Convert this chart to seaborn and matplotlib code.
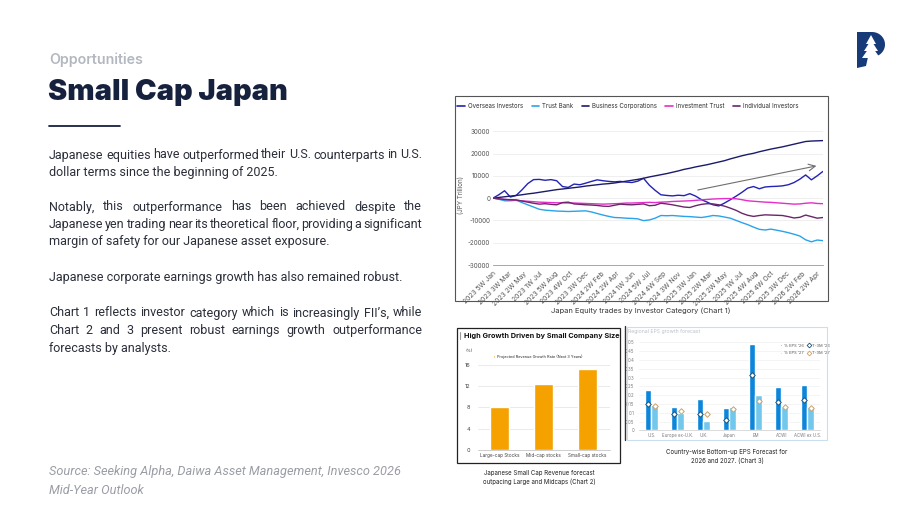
import numpy as np
import pandas as pd
import matplotlib
matplotlib.use("Agg")
import matplotlib.pyplot as plt
import seaborn as sns
from matplotlib.patches import Rectangle, Polygon
from matplotlib.lines import Line2D
from matplotlib.patches import Patch

sns.set_theme(style="white")
plt.rcParams['font.family'] = ['Inter', 'DejaVu Sans']

# ---------------- data: chart 1 (cumulative net trades, every 3 weeks) -------------
weeks = list(range(0, 172, 3))
overseas = [0, 1500, 3300, 500, 1200, 3700, 6500, 8300, 8400, 8000, 8300, 7800, 5200, 4800,
            6300, 6000, 6700, 7500, 8200, 7800, 7500, 7300, 7500, 7200, 7000, 7600, 8900, 5800,
            3500, 1500, 1200, 1000, 1300, 1100, 2000, 900, -700, -1800, -3000, -3500, -2200,
            -700, 900, 2600, 4500, 5200, 4200, 5000, 5200, 5300, 5500, 6000, 7000, 8500, 10400,
            8200, 10000, 12000]
trust_bank = [0, -500, -1200, -1200, -900, -2000, -3000, -4000, -5000, -5400, -5600, -5800,
              -5900, -6000, -5900, -5800, -5700, -6200, -6900, -7600, -8200, -8700, -8800, -9000,
              -9100, -9300, -10100, -9800, -9000, -7800, -7900, -7800, -8000, -8200, -8300, -8500,
              -8700, -8300, -7800, -8000, -8500, -9000, -10000, -11000, -11900, -13000, -14000,
              -14300, -13900, -14400, -14900, -15500, -16200, -17000, -18700, -19600, -18800, -19100]
business_corp = [0, 300, 600, 900, 1200, 1500, 1900, 2200, 2600, 3000, 3400, 3800, 4100, 4400,
                 4700, 5000, 5400, 5700, 6000, 6300, 6500, 6800, 7200, 7600, 8000, 8400, 8900,
                 9500, 10000, 10500, 11000, 11600, 12200, 12900, 13400, 14000, 14500, 15000,
                 15600, 16200, 16800, 17600, 18300, 19000, 19600, 20100, 20800, 21400, 22000,
                 22500, 23000, 23600, 24200, 24800, 25400, 25600, 25700, 25800]
investment_trust = [0, -300, -600, -800, -1000, -1200, -1400, -1600, -1800, -1900, -2000, -2100,
                    -2100, -2200, -2200, -2300, -2400, -2500, -2600, -2700, -2600, -2500, -2400,
                    -2200, -2200, -2100, -2000, -1900, -2000, -1800, -1700, -1500, -1400, -1300,
                    -1200, -1000, -800, -600, -400, -300, -200, -200, -300, -700, -1200, -1400,
                    -1600, -1800, -1900, -2100, -2300, -2500, -2700, -2600, -2300, -2100, -2400, -2500]
individual = [0, -300, -600, -700, -800, -1300, -1800, -2300, -2700, -2500, -2800, -3000, -2000,
              -1800, -2600, -2800, -3000, -3100, -3300, -3600, -3700, -3200, -2700, -2900, -3000,
              -2800, -2600, -3400, -3200, -2300, -2600, -3000, -3500, -4000, -4200, -3400, -2800,
              -2500, -2600, -3000, -3600, -4500, -5500, -6800, -7700, -8200, -7800, -7500, -7600,
              -7700, -7800, -8300, -8900, -8600, -7600, -8300, -9000, -8700]
series_names = ["Overseas Investors", "Trust Bank", "Business Corporations",
                "Investment Trust", "Individual Investors"]
series_colors = ["#2323b4", "#2aa3ea", "#1b1b6b", "#e62ccc", "#6b2668"]
tick_weeks = list(range(0, 169, 8))
tick_labels = ["2023 5W Jan", "2023 3W Mar", "2023 2W May", "2023 1W Jul", "2023 5W Aug",
               "2023 4W Oct", "2023 3W Dec", "2024 2W Feb", "2024 2W Apr", "2024 1W Jun",
               "2024 5W Jul", "2024 4W Sep", "2024 3W Nov", "2025 3W Jan", "2025 2W Mar",
               "2025 2W May", "2025 1W Jul", "2025 4W Aug", "2025 4W Oct", "2025 3W Dec",
               "2026 2W Feb", "2026 2W Apr"]
y1_ticks = [-30000, -20000, -10000, 0, 10000, 20000, 30000]
trend_start = (104.7, 3400)
trend_end = (169, 14700)

# ---------------- data: chart 2 ----------------
cap_cats = ["Large-cap Stocks", "Mid-cap stocks", "Small-cap stocks"]
cap_growth = [8.1, 12.4, 15.2]
y2_ticks = [0, 4, 8, 12, 16]

# ---------------- data: chart 3 ----------------
regions = ["U.S.", "Europe ex-U.K.", "U.K.", "Japan", "EM", "ACWI", "ACWI ex U.S."]
eps26 = [0.23, 0.13, 0.18, 0.125, 0.49, 0.245, 0.26]
eps27 = [0.145, 0.10, 0.055, 0.135, 0.20, 0.135, 0.13]
t3m26 = [0.15, 0.09, 0.095, 0.06, 0.315, 0.16, 0.17]
t3m27 = [0.14, 0.11, 0.095, 0.12, 0.165, 0.135, 0.125]
y3_ticks = [0, 0.05, 0.1, 0.15, 0.2, 0.25, 0.3, 0.35, 0.4, 0.45, 0.5]
y3_labels = ["0", "0.05", "0.1", "0.15", "0.2", "0.25", "0.3", "0.35", "0.4", "0.45", "0.5"]

# ---------------- figure helpers ----------------
W, H = 913, 515
fig = plt.figure(figsize=(W / 100, H / 100), dpi=100)
fig.patch.set_facecolor("white")

def fx(x):
    return x / W

def fy(y):
    return 1 - y / H

def add_ax(x0, y0, x1, y1):
    return fig.add_axes([fx(x0), fy(y1), (x1 - x0) / W, (y1 - y0) / H])

def frame(x0, y0, x1, y1, color, lw=0.8):
    fig.add_artist(Rectangle((fx(x0), fy(y1)), (x1 - x0) / W, (y1 - y0) / H,
                             transform=fig.transFigure, fill=False, ec=color, lw=lw))

NAVY = "#16213e"
BODY_FONT = ["Roboto", "DejaVu Sans"]
renderer = fig.canvas.get_renderer()

def text_width(s, size, **kw):
    t = fig.text(0, 0, s, fontsize=size, **kw)
    w = t.get_window_extent(renderer).width
    t.remove()
    return w

def put_line(text, x0, x1, yb, size, color, justify=True, **kw):
    words = text.split(" ")
    if not justify or len(words) == 1:
        fig.text(fx(x0), fy(yb), text, fontsize=size, color=color, va="baseline", ha="left", **kw)
        return
    full = text_width(text, size, **kw)
    extra = (x1 - x0 - full) / (len(words) - 1)
    for k, w in enumerate(words):
        prefix = " ".join(words[:k + 1])
        start = text_width(prefix, size, **kw) - text_width(w, size, **kw)
        fig.text(fx(x0 + start + k * extra), fy(yb), w, fontsize=size, color=color,
                 va="baseline", ha="left", **kw)

# ---------------- left text ----------------
fig.text(fx(49), fy(64), "Opportunities", fontsize=10.2, color="#b3b7c0",
         fontweight="semibold", va="baseline")
fig.text(fx(48), fy(100), "Small Cap Japan", fontsize=20.8, color=NAVY,
         fontweight="black", va="baseline")
fig.add_artist(Line2D([fx(49), fx(120)], [fy(126), fy(126)], transform=fig.transFigure,
                      color=NAVY, lw=1.3))

paras = [
    (["Japanese equities have outperformed their U.S. counterparts in U.S.",
      "dollar terms since the beginning of 2025."], [158.5, 176]),
    (["Notably, this outperformance has been achieved despite the",
      "Japanese yen trading near its theoretical floor, providing a significant",
      "margin of safety for our Japanese asset exposure."], [210.5, 228, 245.5]),
    (["Japanese corporate earnings growth has also remained robust."], [280.5]),
    (["Chart 1 reflects investor category which is increasingly FII\u2019s, while",
      "Chart 2 and 3 present robust earnings growth outperformance",
      "forecasts by analysts."], [316.5, 334, 352]),
]
for lines, ys in paras:
    for i, (ln, yb) in enumerate(zip(lines, ys)):
        put_line(ln, 49, 422, yb, 9.0, "#2b2f3a", justify=(i < len(lines) - 1),
                 family=BODY_FONT)

fig.text(fx(49), fy(475), "Source: Seeking Alpha, Daiwa Asset Management, Invesco 2026",
         fontsize=9.15, color="#9a9da5", style="italic", va="baseline", family=BODY_FONT)
fig.text(fx(49), fy(494), "Mid-Year Outlook", fontsize=9.15, color="#9a9da5",
         style="italic", va="baseline", family=BODY_FONT)

# ---------------- logo ----------------
theta = np.linspace(np.pi / 2, -np.pi / 2, 30)
bowl = [(872 + 13 * np.cos(t), 44.5 - 12.5 * np.sin(t)) for t in theta]
pts = [(857, 32)] + bowl + [(868, 57), (866, 66), (857, 68)]
fig.add_artist(Polygon([(fx(a), fy(b)) for a, b in pts], closed=True,
                       transform=fig.transFigure, fc="#173a78", ec="none"))
for apex, base, half in [(35, 44, 5), (40, 51, 7), (45, 58, 9)]:
    tri = [(871, apex), (871 - half, base), (871 + half, base)]
    fig.add_artist(Polygon([(fx(a), fy(b)) for a, b in tri], closed=True,
                           transform=fig.transFigure, fc="white", ec="none"))
fig.add_artist(Rectangle((fx(869.5), fy(63)), 3 / W, 5 / H, transform=fig.transFigure,
                         fc="white", ec="none"))

# ---------------- chart 1 ----------------
frame(455, 96, 828, 301, "#555555")
ax1 = add_ax(493, 125, 823, 265)
df1 = pd.DataFrame({"week": weeks * 5,
                    "value": overseas + trust_bank + business_corp + investment_trust + individual,
                    "series": sum([[n] * len(weeks) for n in series_names], [])})
sns.lineplot(data=df1, x="week", y="value", hue="series", hue_order=series_names,
             palette=series_colors, lw=1.0, ax=ax1, legend=False)
ax1.set_xlim(0, 171)
ax1.set_ylim(-30000, 32800)
ax1.set_yticks(y1_ticks)
ax1.set_yticklabels([str(v) for v in y1_ticks], fontsize=4.5, color="#555555")
ax1.set_xticks(tick_weeks)
ax1.set_xticklabels(tick_labels, rotation=45, ha="right", rotation_mode="anchor",
                    fontsize=4.9, color="#555555")
ax1.tick_params(axis="y", length=0, pad=2)
ax1.tick_params(axis="x", length=0, pad=4)
ax1.grid(axis="y", color="#ececec", lw=0.6)
for s in ["top", "right", "left"]:
    ax1.spines[s].set_visible(False)
ax1.spines["bottom"].set_color("#999999")
ax1.spines["bottom"].set_linewidth(0.6)
ax1.set_xlabel("")
ax1.set_ylabel("(JPY Trillion)", fontsize=4.5, color="#555555", labelpad=3)
ax1.annotate("", xy=trend_end, xytext=trend_start,
             arrowprops=dict(arrowstyle="->", color="#6f6f6f", lw=0.8))
handles1 = [Line2D([], [], color=c, lw=1.2) for c in series_colors]
ax1.legend(handles1, series_names, loc="center left", bbox_to_anchor=(fx(455), fy(106)),
           bbox_transform=fig.transFigure, ncol=5, fontsize=4.4, frameon=False,
           handlelength=1.2, handletextpad=0.5, columnspacing=1.4, borderaxespad=0,
           labelcolor="#333333")
fig.text(fx(641), fy(311), "Japan Equity trades by Investor Category (Chart 1)",
         fontsize=5.4, color="#333333", ha="center", va="center")

# ---------------- chart 2 ----------------
frame(457, 328, 620, 463, "#222222", lw=0.9)
fig.add_artist(Line2D([fx(460), fx(460)], [fy(332), fy(339)], transform=fig.transFigure,
                      color="#999999", lw=0.8))
fig.text(fx(464), fy(336), "High Growth Driven by Small Company Size", fontsize=5.25,
         fontweight="bold", color="#111111", va="center")
ax2 = add_ax(477.5, 360, 609.5, 450)
sns.barplot(x=cap_cats, y=cap_growth, color="#f5a100", width=0.44, ax=ax2,
            saturation=1)
ax2.set_ylim(0, 16.94)
ax2.set_yticks(y2_ticks)
ax2.set_yticklabels([str(v) for v in y2_ticks], fontsize=4.0, color="#444444")
ax2.tick_params(axis="y", length=0, pad=5)
ax2.tick_params(axis="x", length=0, pad=2, labelsize=3.4, labelcolor="#444444")
ax2.grid(axis="y", color="#e2e2e2", lw=0.5)
ax2.set_axisbelow(True)
for s in ["top", "right", "left"]:
    ax2.spines[s].set_visible(False)
ax2.spines["bottom"].set_color("#bbbbbb")
ax2.spines["bottom"].set_linewidth(0.5)
fig.text(fx(465), fy(351), "(%)", fontsize=3.0, color="#444444", va="center")
ax2.legend([Patch(fc="#f5a100")], ["Projected Revenue Growth Rate (Next 3 Years)"],
           loc="center left", bbox_to_anchor=(fx(491), fy(356.5)),
           bbox_transform=fig.transFigure, fontsize=2.8, frameon=False,
           handlelength=0.7, handleheight=0.7, handletextpad=0.4, borderaxespad=0)
fig.text(fx(539), fy(473), "Japanese Small Cap Revenue forecast", fontsize=4.4,
         color="#222222", ha="center", va="center")
fig.text(fx(539), fy(482), "outpacing Large and Midcaps (Chart 2)", fontsize=4.4,
         color="#222222", ha="center", va="center")

# ---------------- chart 3 ----------------
fig.add_artist(Line2D([fx(624.5), fx(624.5)], [fy(326), fy(440)], transform=fig.transFigure,
                      color="#333333", lw=1.0))
frame(627, 327, 827, 440, "#c9dff0", lw=0.8)
fig.text(fx(628), fy(331), "Regional EPS growth forecast", fontsize=3.7, color="#b9c2cb",
         va="center")
ax3 = add_ax(638.5, 336, 820.4, 430.3)
df3 = pd.DataFrame({"region": regions * 2, "value": eps26 + eps27,
                    "series": ["% EPS '26"] * len(regions) + ["% EPS '27"] * len(regions)})
sns.barplot(data=df3, x="region", y="value", hue="series", order=regions,
            palette=["#0b86da", "#72c8ec"], width=0.5, gap=0, saturation=1,
            ax=ax3, legend=False)
pos = np.arange(len(regions))
ax3.scatter(pos - 0.125, t3m26, marker="D", s=8, facecolor="white", edgecolor="#1d4f73",
            lw=0.7, zorder=5)
ax3.scatter(pos + 0.125, t3m27, marker="D", s=8, facecolor="white", edgecolor="#c8a26e",
            lw=0.7, zorder=5)
ax3.set_xlim(-0.5, len(regions) - 0.5)
ax3.set_ylim(0, 0.536)
ax3.set_yticks(y3_ticks)
ax3.set_yticklabels(y3_labels, fontsize=3.1, color="#7a7a7a")
ax3.tick_params(axis="y", length=0, pad=3)
ax3.tick_params(axis="x", length=0, pad=2, labelsize=3.1, labelcolor="#7a7a7a")
ax3.grid(axis="y", color="#ececec", lw=0.4)
ax3.set_axisbelow(True)
ax3.set_xlabel("")
ax3.set_ylabel("")
for s in ["top", "right", "left"]:
    ax3.spines[s].set_visible(False)
ax3.spines["bottom"].set_color("#cccccc")
ax3.spines["bottom"].set_linewidth(0.5)
h3 = [Patch(fc="#0b86da"), Patch(fc="#72c8ec"),
      Line2D([], [], marker="D", ls="", ms=2.4, mfc="white", mec="#1d4f73", mew=0.6),
      Line2D([], [], marker="D", ls="", ms=2.4, mfc="white", mec="#c8a26e", mew=0.6)]
ax3.legend(h3, ["% EPS '26", "% EPS '27", "T-3M '26", "T-3M '27"], ncol=2,
           loc="upper left", bbox_to_anchor=(fx(778), fy(342)),
           bbox_transform=fig.transFigure, fontsize=2.9, frameon=False,
           handlelength=0.6, handleheight=0.6, handletextpad=0.5, columnspacing=1.0,
           labelspacing=0.9, borderaxespad=0, labelcolor="#555555")
fig.text(fx(727), fy(452), "Country-wise Bottom-up EPS Forecast for", fontsize=4.4,
         color="#222222", ha="center", va="center")
fig.text(fx(727), fy(461), "2026 and 2027. (Chart 3)", fontsize=4.4,
         color="#222222", ha="center", va="center")

fig.savefig("out.png", dpi=100, facecolor="white")
